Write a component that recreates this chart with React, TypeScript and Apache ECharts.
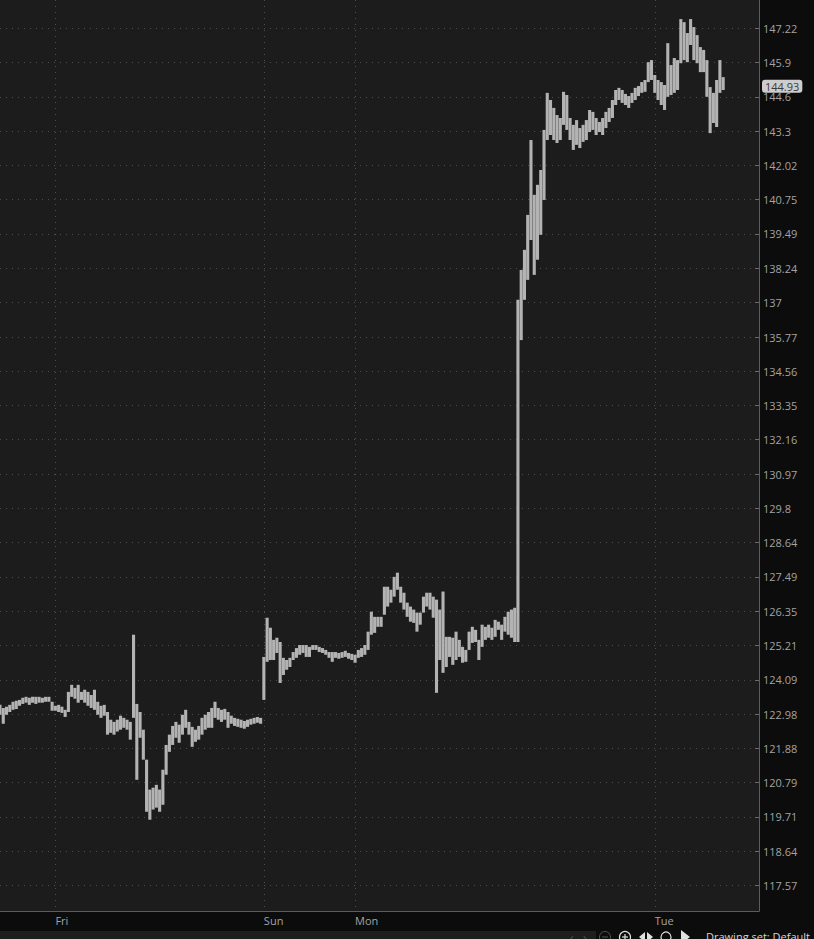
import React, { useEffect, useRef } from "react";
import * as echarts from "echarts";

// Sessions (15-minute bars); trading pauses Fri 16:00 - Sun 17:00 and Mon 16:00 - 17:00
const SESSIONS: [string, string, string][] = [
  ["Thu", "19:45", "23:45"],
  ["Fri", "00:00", "15:45"],
  ["Sun", "17:00", "23:45"],
  ["Mon", "00:00", "15:45"],
  ["Mon", "17:00", "23:45"],
  ["Tue", "00:00", "08:00"],
];

const DAY_MARKS = ["Fri 00:00", "Sun 17:00", "Mon 00:00", "Tue 00:00"];

const Y_TICKS = [
  "117.57", "118.64", "119.71", "120.79", "121.88", "122.98", "124.09", "125.21",
  "126.35", "127.49", "128.64", "129.8", "130.97", "132.16", "133.35", "134.56",
  "135.77", "137", "138.24", "139.49", "140.75", "142.02", "143.3", "144.6",
  "145.9", "147.22",
];

const Y_MIN = 116.79;
const Y_MAX = 148.32;
const LAST_PRICE = 144.93;

const LOWS = [
  122.96, 122.67, 122.96, 123.05, 123.12, 123.15, 123.25, 123.31, 123.35, 123.28,
  123.35, 123.31, 123.35, 123.35, 123.38, 123.38, 123.09, 123.09, 123.05, 123.02,
  122.89, 123.05, 123.54, 123.48, 123.35, 123.44, 123.35, 123.25, 123.18, 123.12,
  122.96, 122.86, 122.93, 122.32, 122.38, 122.32, 122.42, 122.48, 122.54, 122.48,
  122.16, 122.86, 120.88, 122.22, 121.52, 119.87, 119.62, 119.94, 120.0, 119.87,
  120.09, 121.04, 121.77, 121.99, 122.22, 122.06, 122.32, 122.54, 122.32, 121.93,
  122.09, 122.16, 122.32, 122.48, 122.54, 122.54, 122.86, 122.8, 122.73, 122.8,
  122.54, 122.67, 122.6, 122.57, 122.54, 122.51, 122.57, 122.64, 122.67, 122.7,
  122.67, 123.44, 124.68, 124.74, 124.74, 124.97, 123.99, 124.25, 124.42, 124.51,
  124.74, 124.81, 124.91, 124.97, 124.84, 124.84, 125.07, 125.07, 125.0, 124.97,
  124.91, 124.81, 124.68, 124.81, 124.78, 124.81, 124.84, 124.78, 124.74, 124.65,
  124.81, 124.84, 124.91, 125.07, 125.57, 125.63, 125.83, 125.83, 126.23, 126.5,
  126.63, 126.83, 127.06, 126.63, 126.4, 126.16, 126.0, 125.96, 125.67, 125.9,
  126.3, 126.5, 126.4, 126.13, 123.67, 124.74, 124.32, 124.51, 124.84, 124.58,
  124.74, 124.84, 124.65, 124.68, 125.07, 125.3, 125.33, 124.74, 125.17, 125.4,
  125.47, 125.4, 125.5, 125.73, 125.4, 125.67, 125.57, 125.47, 125.33, 125.33,
  135.66, 137.1, 137.82, 139.27, 138.0, 138.55, 139.46, 140.74, 142.97, 143.16,
  142.97, 142.86, 142.97, 143.54, 143.35, 142.97, 142.6, 142.79, 142.67, 142.9,
  142.97, 143.27, 143.35, 143.16, 143.27, 143.16, 143.42, 143.65, 143.8, 144.29,
  144.48, 144.37, 144.29, 144.18, 144.37, 144.48, 144.63, 144.75, 144.79, 145.16,
  145.24, 144.75, 144.48, 144.29, 144.1, 144.6, 144.67, 144.75, 144.86, 145.88,
  146.0, 145.92, 146.58, 146.0, 145.88, 145.54, 145.54, 144.6, 143.23, 143.61,
  143.46, 144.75, 144.86,
];

const HIGHS = [
  123.28, 123.18, 123.22, 123.28, 123.38, 123.41, 123.44, 123.51, 123.54, 123.51,
  123.54, 123.54, 123.54, 123.51, 123.54, 123.54, 123.38, 123.25, 123.28, 123.22,
  123.12, 123.7, 123.93, 123.83, 123.93, 123.7, 123.77, 123.7, 123.6, 123.77,
  123.38, 123.25, 123.28, 123.05, 122.8, 122.73, 122.8, 122.93, 122.86, 122.8,
  122.73, 125.57, 123.31, 123.05, 122.48, 121.52, 120.57, 120.63, 120.72, 120.57,
  121.2, 121.99, 122.32, 122.6, 122.73, 122.64, 122.96, 123.12, 122.73, 122.57,
  122.48, 122.6, 122.86, 122.96, 123.05, 123.18, 123.38, 123.18, 123.12, 123.15,
  123.05, 122.93, 122.86, 122.83, 122.8, 122.76, 122.8, 122.83, 122.86, 122.89,
  122.86, 124.84, 126.13, 125.8, 125.4, 125.47, 125.33, 124.81, 124.74, 124.81,
  125.0, 125.13, 125.23, 125.23, 125.23, 125.17, 125.23, 125.23, 125.17, 125.13,
  125.07, 125.0, 125.0, 125.0, 124.97, 125.0, 125.04, 124.97, 124.94, 124.91,
  125.07, 125.13, 125.23, 125.67, 126.33, 126.16, 126.16, 126.16, 127.16, 127.16,
  127.06, 127.49, 127.63, 127.16, 126.96, 126.63, 126.5, 126.4, 126.3, 126.3,
  126.83, 126.96, 126.96, 126.83, 126.73, 126.4, 127.0, 125.5, 125.5, 125.47,
  125.67, 125.4, 125.17, 125.07, 125.67, 125.83, 125.73, 125.4, 125.9, 125.83,
  125.9, 125.8, 126.06, 126.0, 125.9, 126.16, 126.33, 126.4, 126.46, 137.1,
  138.18, 138.91, 140.19, 142.97, 140.93, 141.3, 141.85, 143.35, 144.75, 144.48,
  144.18, 143.91, 143.8, 144.79, 144.67, 143.8, 143.54, 143.72, 143.42, 143.54,
  143.72, 144.1, 144.03, 143.8, 143.65, 143.8, 144.03, 144.18, 144.48, 144.86,
  144.94, 144.86, 144.71, 144.63, 144.75, 144.94, 145.01, 145.16, 145.24, 145.92,
  146.0, 145.43, 145.24, 145.16, 145.05, 146.65, 145.81, 146.08, 146.0, 147.58,
  147.46, 147.04, 147.58, 147.27, 146.96, 146.5, 146.39, 146.0, 144.97, 144.75,
  145.24, 146.0, 145.35,
];

function buildCategories(): string[] {
  const out: string[] = [];
  for (const [day, from, to] of SESSIONS) {
    const [fh, fm] = from.split(":").map(Number);
    const [th, tm] = to.split(":").map(Number);
    for (let t = fh * 60 + fm; t <= th * 60 + tm; t += 15) {
      const h = String(Math.floor(t / 60)).padStart(2, "0");
      const m = String(t % 60).padStart(2, "0");
      out.push(`${day} ${h}:${m}`);
    }
  }
  return out;
}

const CATEGORIES = buildCategories();

const FONT = "'Open Sans', 'Noto Sans', sans-serif";
const GRID_LINE = { color: "#4e4e4e", width: 1, type: [1, 5] as number[] };

export default function App() {
  const ref = useRef<HTMLDivElement>(null);

  useEffect(() => {
    if (!ref.current) return;
    const chart = echarts.init(ref.current, undefined, { renderer: "svg" });

    const bars = LOWS.map((lo, i) => [i, lo, HIGHS[i]]);
    const isDayMark = (_idx: number, value: string) => DAY_MARKS.indexOf(value) >= 0;

    const option: any = {
      animation: false,
      backgroundColor: "#0c0c0c",
      grid: {
        left: 0,
        right: 55,
        top: 0,
        bottom: 28,
        show: true,
        backgroundColor: "#1c1c1c",
        borderWidth: 0,
      },
      xAxis: {
        type: "category",
        data: CATEGORIES,
        boundaryGap: false,
        axisLine: { show: true, lineStyle: { color: "#5c5c5c", width: 1 } },
        axisTick: { show: false },
        axisLabel: {
          interval: isDayMark,
          formatter: (v: string) => v.split(" ")[0],
          color: "#a3a3a3",
          fontSize: 11,
          fontFamily: FONT,
          align: "left",
          margin: 4,
        },
        splitLine: { show: true, interval: isDayMark, lineStyle: GRID_LINE },
      },
      yAxis: {
        type: "log",
        logBase: 10,
        position: "right",
        min: Y_MIN,
        max: Y_MAX,
        axisLine: { show: true, lineStyle: { color: "#5c5c5c", width: 1 } },
        axisTick: {
          show: true,
          inside: true,
          length: 4,
          customValues: Y_TICKS.map(Number),
          lineStyle: { color: "#6a6a6a" },
        },
        axisLabel: {
          customValues: Y_TICKS.map(Number),
          color: "#a3a3a3",
          fontSize: 11,
          fontFamily: FONT,
          margin: 4,
          formatter: (v: number) => {
            let best = Y_TICKS[0];
            let bd = Infinity;
            for (const t of Y_TICKS) {
              const d = Math.abs(Number(t) - v);
              if (d < bd) {
                bd = d;
                best = t;
              }
            }
            return best;
          },
        },
        splitLine: { show: true, lineStyle: GRID_LINE },
      },
      series: [
        {
          type: "custom",
          clip: true,
          data: bars,
          encode: { x: 0, y: [1, 2] },
          renderItem: (params: any, api: any) => {
            const idx = api.value(0);
            const lo = api.coord([idx, api.value(1)]);
            const hi = api.coord([idx, api.value(2)]);
            const w = api.size([1, 0])[0] * 0.95;
            return {
              type: "rect",
              shape: {
                x: lo[0] - w / 2,
                y: hi[1],
                width: w,
                height: Math.max(1, lo[1] - hi[1]),
              },
              style: { fill: "#b3b3b3" },
            };
          },
        },
        {
          type: "line",
          data: [],
          silent: true,
          markLine: {
            silent: true,
            symbol: "none",
            lineStyle: { color: "rgba(0,0,0,0)", width: 0 },
            data: [{ yAxis: LAST_PRICE }],
            label: {
              show: true,
              position: "end",
              distance: 3,
              offset: [0, -2],
              formatter: String(LAST_PRICE),
              backgroundColor: "#cdcdcd",
              color: "#3a3a3a",
              fontSize: 11,
              fontFamily: FONT,
              lineHeight: 11,
              padding: [1, 3],
              borderRadius: 3,
              opacity: 1,
            },
          },
        },
      ],
      graphic: [
        { type: "rect", left: 0, top: 931, shape: { width: 596, height: 8 }, style: { fill: "#1e1e1e" }, silent: true },
        { type: "text", x: 570, y: 931, style: { text: "‹   ›", fill: "#555", fontSize: 12, fontFamily: FONT }, silent: true },
        { type: "circle", shape: { cx: 605, cy: 937, r: 5.5 }, style: { fill: "none", stroke: "#555", lineWidth: 1 }, silent: true },
        { type: "line", shape: { x1: 602, y1: 937, x2: 608, y2: 937 }, style: { stroke: "#555", lineWidth: 1 }, silent: true },
        { type: "circle", shape: { cx: 625, cy: 937, r: 5.5 }, style: { fill: "none", stroke: "#e0e0e0", lineWidth: 1.2 }, silent: true },
        { type: "line", shape: { x1: 622, y1: 937, x2: 628, y2: 937 }, style: { stroke: "#e0e0e0", lineWidth: 1.2 }, silent: true },
        { type: "line", shape: { x1: 625, y1: 934, x2: 625, y2: 940 }, style: { stroke: "#e0e0e0", lineWidth: 1.2 }, silent: true },
        { type: "polygon", shape: { points: [[639, 937], [645, 932], [645, 942]] }, style: { fill: "#e0e0e0" }, silent: true },
        { type: "polygon", shape: { points: [[647, 932], [653, 937], [647, 942]] }, style: { fill: "#e0e0e0" }, silent: true },
        { type: "circle", shape: { cx: 666, cy: 937, r: 5 }, style: { fill: "none", stroke: "#e0e0e0", lineWidth: 1.2 }, silent: true },
        { type: "polygon", shape: { points: [[681, 930], [690, 937], [681, 944]] }, style: { fill: "#e0e0e0" }, silent: true },
        { type: "text", x: 706, y: 931, style: { text: "Drawing set: Default", fill: "#d4d4d4", fontSize: 11, fontFamily: FONT }, silent: true },
      ],
    };

    chart.setOption(option);
    return () => chart.dispose();
  }, []);

  return (
    <div
      ref={ref}
      style={{ position: "absolute", left: 0, top: 0, width: 814, height: 939 }}
    />
  );
}
